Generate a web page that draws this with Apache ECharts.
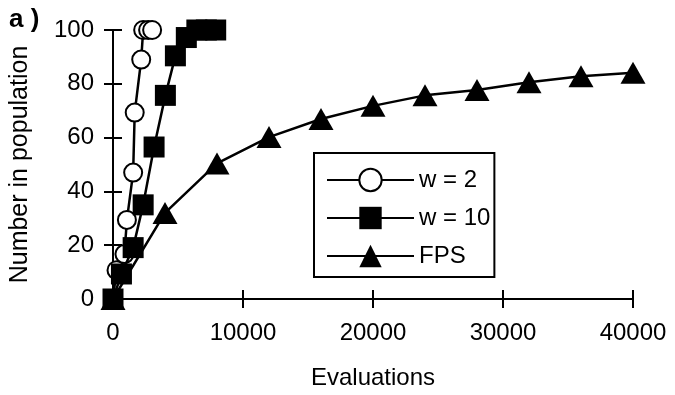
<!DOCTYPE html>
<html>
<head>
<meta charset="utf-8">
<script src="https://cdn.jsdelivr.net/npm/echarts@6/dist/echarts.min.js"></script>
<style>
  html, body { margin: 0; padding: 0; background: #fff; }
  #chart { width: 675px; height: 395px; }
</style>
</head>
<body>
<div id="chart"></div>
<script>
const seriesNames = ['w = 2', 'w = 10', 'FPS'];

// w = 2 (open circles)
const w2Evals = [0, 270, 880, 1070, 1550, 1670, 2170, 2320, 2700, 3010];
const w2Count = [0, 10.7, 16.7, 29.4, 47, 69.3, 89, 100, 100, 100];

// w = 10 (filled squares)
const w10Evals = [0, 650, 1550, 2320, 3160, 4030, 4800, 5640, 6450, 7180, 7900];
const w10Count = [0, 9.3, 19.1, 35, 56.5, 75.7, 90.4, 97.2, 100, 100, 100];

// FPS (filled triangles)
const fpsEvals = [0, 4000, 8000, 12000, 16000, 20000, 24000, 28000, 32000, 36000, 40000];
const fpsCount = [0, 32, 50.4, 60.2, 66.9, 71.8, 75.7, 77.7, 80.6, 82.8, 84.1];

const xTicks = [0, 10000, 20000, 30000, 40000];
const yTicks = [0, 20, 40, 60, 80, 100];

const FONT = 'Liberation Sans, Arial, sans-serif';

const pairs = (xs, ys) => xs.map((x, i) => [x, ys[i]]);

const chart = echarts.init(document.getElementById('chart'), null, { renderer: 'canvas' });

const axisBase = {
  type: 'value',
  splitLine: { show: false }
};

const xRange = { min: xTicks[0], max: xTicks[xTicks.length - 1], interval: xTicks[1] - xTicks[0] };
const yRange = { min: yTicks[0], max: yTicks[yTicks.length - 1], interval: yTicks[1] - yTicks[0] };

chart.setOption({
  animation: false,
  backgroundColor: '#fff',
  title: {
    text: 'a )',
    left: 4,
    top: 2,
    textStyle: { fontFamily: FONT, fontSize: 26, fontWeight: 'bold', color: '#000' }
  },
  grid: { left: 111, right: 42, top: 30, bottom: 93 },
  legend: {
    data: seriesNames,
    orient: 'vertical',
    left: 314,
    top: 153,
    padding: [13, 4, 7, 12],
    itemGap: 10,
    itemWidth: 87,
    itemHeight: 28,
    backgroundColor: '#fff',
    borderColor: '#000',
    borderWidth: 2,
    borderRadius: 0,
    textStyle: { fontFamily: FONT, fontSize: 24, color: '#000', lineHeight: 28 }
  },
  xAxis: [
    Object.assign({}, axisBase, xRange, {
      position: 'bottom',
      name: 'Evaluations',
      nameLocation: 'middle',
      nameGap: 67,
      nameTextStyle: { fontFamily: FONT, fontSize: 24, color: '#000' },
      axisLine: { show: true, onZero: false, lineStyle: { color: '#000', width: 2 } },
      axisTick: { show: true, inside: false, length: 9, lineStyle: { color: '#000', width: 2 } },
      axisLabel: {
        margin: 22,
        fontFamily: FONT,
        fontSize: 24,
        color: '#000',
        formatter: (v) => String(v)
      }
    }),
    Object.assign({}, axisBase, xRange, {
      position: 'bottom',
      axisLine: { show: false },
      axisTick: { show: true, inside: true, length: 9, lineStyle: { color: '#000', width: 2 } },
      axisLabel: { show: false }
    })
  ],
  yAxis: [
    Object.assign({}, axisBase, yRange, {
      position: 'left',
      name: 'Number in population',
      nameLocation: 'middle',
      nameGap: 80,
      nameRotate: 90,
      nameTextStyle: { fontFamily: FONT, fontSize: 25, color: '#000' },
      axisLine: { show: true, onZero: false, lineStyle: { color: '#000', width: 2 } },
      axisTick: { show: true, inside: false, length: 9, lineStyle: { color: '#000', width: 2 } },
      axisLabel: { margin: 19, fontFamily: FONT, fontSize: 24, color: '#000' }
    }),
    Object.assign({}, axisBase, yRange, {
      position: 'left',
      axisLine: { show: false },
      axisTick: { show: true, inside: true, length: 9, lineStyle: { color: '#000', width: 2 } },
      axisLabel: { show: false }
    })
  ],
  series: [
    {
      name: seriesNames[0],
      type: 'line',
      z: 2,
      data: pairs(w2Evals, w2Count),
      symbol: 'circle',
      symbolSize: 18,
      showAllSymbol: true,
      lineStyle: { color: '#000', width: 2.5 },
      itemStyle: { color: '#fff', borderColor: '#000', borderWidth: 2 }
    },
    {
      name: seriesNames[1],
      type: 'line',
      z: 4,
      data: pairs(w10Evals, w10Count),
      symbol: 'rect',
      symbolSize: 21,
      showAllSymbol: true,
      lineStyle: { color: '#000', width: 2.5 },
      itemStyle: { color: '#000', borderColor: '#000', borderWidth: 0 }
    },
    {
      name: seriesNames[2],
      type: 'line',
      z: 3,
      data: pairs(fpsEvals, fpsCount),
      symbol: 'triangle',
      symbolSize: [25, 22],
      showAllSymbol: true,
      lineStyle: { color: '#000', width: 2.5 },
      itemStyle: { color: '#000', borderColor: '#000', borderWidth: 0 }
    }
  ]
});
</script>
</body>
</html>
